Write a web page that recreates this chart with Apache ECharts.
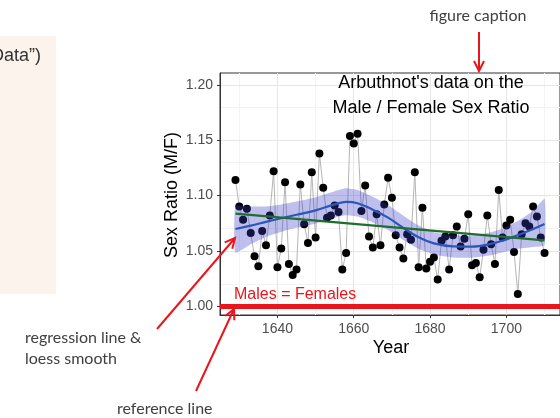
<!DOCTYPE html>
<html><head><meta charset="utf-8">
<script src="https://cdn.jsdelivr.net/npm/echarts@6/dist/echarts.min.js"></script>
<style>html,body{margin:0;padding:0;background:#fff}#c{width:560px;height:418px}</style>
</head><body><div id="c"></div>
<script>
// ---- data ----
const years = [1629,1630,1631,1632,1633,1634,1635,1636,1637,1638,1639,1640,1641,1642,1643,1644,1645,1646,1647,1648,1649,1650,1651,1652,1653,1654,1655,1656,1657,1658,1659,1660,1661,1662,1663,1664,1665,1666,1667,1668,1669,1670,1671,1672,1673,1674,1675,1676,1677,1678,1679,1680,1681,1682,1683,1684,1685,1686,1687,1688,1689,1690,1691,1692,1693,1694,1695,1696,1697,1698,1699,1700,1701,1702,1703,1704,1705,1706,1707,1708,1709,1710];
const ratio = [1.114,1.090,1.078,1.088,1.066,1.045,1.036,1.068,1.055,1.082,1.122,1.035,1.052,1.112,1.038,1.028,1.033,1.110,1.074,1.057,1.121,1.062,1.138,1.107,1.080,1.082,1.091,1.085,1.033,1.048,1.154,1.147,1.156,1.086,1.109,1.063,1.053,1.083,1.055,1.092,1.116,1.098,1.064,1.053,1.043,1.065,1.060,1.121,1.035,1.089,1.034,1.040,1.044,1.024,1.059,1.063,1.033,1.064,1.072,1.054,1.061,1.083,1.037,1.039,1.026,1.051,1.082,1.056,1.038,1.105,1.062,1.073,1.078,1.049,1.011,1.065,1.075,1.072,1.090,1.081,1.062,1.048];
const loessYears = [1629,1633,1637,1641,1645,1650,1655,1658,1661,1665,1669,1673,1677,1681,1686,1691,1696,1700,1704,1707,1710];
const loessFit   = [1.0697,1.0728,1.0762,1.0795,1.0826,1.0866,1.0920,1.0943,1.0930,1.0872,1.0800,1.0707,1.0622,1.0567,1.0540,1.0538,1.0563,1.0603,1.0655,1.0697,1.0743];
const loessLower = [1.0485,1.0560,1.0625,1.0672,1.0708,1.0748,1.0800,1.0822,1.0810,1.0757,1.0688,1.0597,1.0517,1.0467,1.0440,1.0438,1.0460,1.0493,1.0522,1.0535,1.0550];
const loessUpper = [1.0905,1.0900,1.0902,1.0920,1.0946,1.0985,1.1040,1.1065,1.1050,1.0988,1.0912,1.0818,1.0728,1.0668,1.0640,1.0638,1.0667,1.0715,1.0790,1.0862,1.0970];
const regYears = [1629,1710];
const regFit = [1.0836,1.0594];
const refValue = 1.0;
const yTicks = [1.00,1.05,1.10,1.15,1.20];
const yMinor = [1.025,1.075,1.125,1.175];
const xTicks = [1640,1660,1680,1700];
const xMinor = [1630,1650,1670,1690,1710];

const chartFont = '"Liberation Sans", Arial, sans-serif';
const slideFont = 'Lato, "Open Sans", sans-serif';

const chart = echarts.init(document.getElementById('c'), null, {renderer:'canvas'});

const gridLines = []
  .concat(yMinor.map(v => ({yAxis: v, lineStyle:{color:'#f3f3f3', width:1}})))
  .concat(xMinor.map(v => ({xAxis: v, lineStyle:{color:'#f3f3f3', width:1}})))
  .concat(yTicks.map(v => ({yAxis: v, lineStyle:{color:'#e6e6e6', width:1}})))
  .concat(xTicks.map(v => ({xAxis: v, lineStyle:{color:'#e6e6e6', width:1}})));

const red = '#e8161c';
function arrow(x1, y1, x2, y2) {
  const a = Math.atan2(y2 - y1, x2 - x1);
  const L = 10, W = 5;
  const bx = x2 - L * Math.cos(a), by = y2 - L * Math.sin(a);
  const px = -Math.sin(a) * W, py = Math.cos(a) * W;
  return [
    {type:'line', shape:{x1:x1, y1:y1, x2:x2, y2:y2}, style:{stroke:red, lineWidth:2}, z:100},
    {type:'polyline', shape:{points:[[bx+px, by+py],[x2, y2],[bx-px, by-py]]}, style:{stroke:red, lineWidth:2, fill:null}, z:100}
  ];
}

const option = {
  animation: false,
  backgroundColor: '#ffffff',
  grid: {left:220, top:73, width:341, height:242, show:true, borderColor:'#333333', borderWidth:1, backgroundColor:'rgba(0,0,0,0)'},
  xAxis: {
    type:'value', min:1624.95, max:1714.05,
    axisLine:{show:true, onZero:false, lineStyle:{color:'#333333', width:1}},
    axisTick:{show:true, length:3, customValues:xTicks, lineStyle:{color:'#333333'}},
    axisLabel:{customValues:xTicks, color:'#4d4d4d', fontSize:14, fontFamily:chartFont, margin:7,
      formatter: v => String(Math.round(v))},
    splitLine:{show:false}
  },
  yAxis: {
    type:'value', min:0.9919, max:1.2109,
    axisLine:{show:true, onZero:false, lineStyle:{color:'#333333', width:1}},
    axisTick:{show:true, length:3, customValues:yTicks, lineStyle:{color:'#333333'}},
    axisLabel:{customValues:yTicks, color:'#4d4d4d', fontSize:14, fontFamily:chartFont, margin:7,
      formatter: v => Number(v).toFixed(2)},
    splitLine:{show:false}
  },
  series: [
    {type:'line', data:[], z:0, silent:true,
      markLine:{z:0, silent:true, symbol:'none', label:{show:false}, animation:false,
        lineStyle:{type:'solid'}, data:gridLines}},
    {type:'line', data: years.map((y,i)=>[y, ratio[i]]), symbol:'none', z:2,
      lineStyle:{color:'#b5b5b5', width:1}},
    {type:'scatter', data: years.map((y,i)=>[y, ratio[i]]), symbolSize:8, z:3,
      itemStyle:{color:'#000000', opacity:1}},
    {type:'custom', z:4, silent:true,
      data: loessYears.map((y,i)=>[y, loessLower[i], loessUpper[i]]),
      encode:{x:0, y:[1,2]},
      renderItem: function(params, api) {
        if (params.dataIndex !== 0) return null;
        const up = [], lo = [];
        for (let i = 0; i < loessYears.length; i++) {
          up.push(api.coord([loessYears[i], loessUpper[i]]));
          lo.push(api.coord([loessYears[i], loessLower[i]]));
        }
        return {type:'polygon', shape:{points: up.concat(lo.slice().reverse()), smooth:0.15},
            style:{fill:'rgba(60,60,200,0.33)'}};
      }},
    {type:'line', data: loessYears.map((y,i)=>[y, loessFit[i]]), smooth:0.4, symbol:'none', z:5,
      lineStyle:{color:'#2c56b8', width:2.2}},
    {type:'line', data: regYears.map((y,i)=>[y, regFit[i]]), symbol:'none', z:6,
      lineStyle:{color:'#1f6e2f', width:2.2}},
    {type:'line', data:[], z:7, silent:true,
      markLine:{z:7, silent:true, symbol:'none', label:{show:false}, animation:false,
        data:[{yAxis:refValue, lineStyle:{type:'solid', color:red, width:5}}]}}
  ],
  graphic: [
    {type:'rect', shape:{x:0, y:36, width:56, height:258}, style:{fill:'#fcf3ed'}, z:-1},
    {type:'text', x:-9, y:56, style:{text:'Data\u201d)', fill:'#333333', font:'18px ' + chartFont, align:'left', verticalAlign:'middle'}},
    {type:'text', x:478, y:16, style:{text:'figure caption', fill:'#404040', font:'16px ' + slideFont, align:'center', verticalAlign:'middle'}},
    {type:'text', x:25, y:338, style:{text:'regression line &', fill:'#404040', font:'16px ' + slideFont, align:'left', verticalAlign:'middle'}},
    {type:'text', x:25, y:359, style:{text:'loess smooth', fill:'#404040', font:'16px ' + slideFont, align:'left', verticalAlign:'middle'}},
    {type:'text', x:117, y:409, style:{text:'reference line', fill:'#404040', font:'16px ' + slideFont, align:'left', verticalAlign:'middle'}},
    {type:'text', x:431, y:83.5, style:{text:"Arbuthnot's data on the", fill:'#000000', font:'18px ' + chartFont, align:'center', verticalAlign:'middle'}, z:50},
    {type:'text', x:431, y:108, style:{text:'Male / Female Sex Ratio', fill:'#000000', font:'18px ' + chartFont, align:'center', verticalAlign:'middle'}, z:50},
    {type:'text', x:234, y:294.5, style:{text:'Males = Females', fill:red, font:'16px ' + chartFont, align:'left', verticalAlign:'middle'}, z:50},
    {type:'text', x:391, y:348, style:{text:'Year', fill:'#000000', font:'18px ' + chartFont, align:'center', verticalAlign:'middle'}},
    {type:'text', x:172, y:195, rotation:Math.PI/2, style:{text:'Sex Ratio (M/F)', fill:'#000000', font:'18px ' + chartFont, align:'center', verticalAlign:'middle'}}
  ]
  .concat(arrow(479, 32, 479, 71))
  .concat(arrow(157, 329, 235, 238))
  .concat(arrow(196, 391, 234, 309))
};
chart.setOption(option);
</script>
</body></html>
